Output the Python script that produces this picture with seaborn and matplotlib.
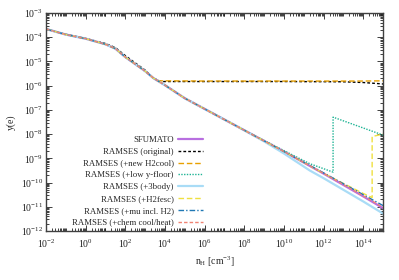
import numpy as np
import pandas as pd
import matplotlib
matplotlib.use("Agg")
import matplotlib.pyplot as plt
import matplotlib.ticker as mticker
import seaborn as sns

# values, stored as log10(n_H) and log10(y(e))
log_n_main = [-2, -1, 0, 1, 1.5, 2, 3, 3.42, 4, 5, 6, 8, 10, 12, 14, 15]
log_y_main = [-3.66, -3.89, -4.06, -4.29, -4.47, -4.82, -5.40, -5.69, -5.98,
              -6.52, -6.96, -7.84, -8.72, -9.63, -10.57, -11.06]

log_n_orig = [-2, -1, 0, 1, 1.5, 2, 2.5, 3, 3.42, 3.8, 6, 10, 13, 14, 15]
log_y_orig = [-3.66, -3.88, -4.05, -4.26, -4.43, -4.76, -5.06, -5.36, -5.69,
              -5.83, -5.83, -5.83, -5.84, -5.87, -5.93]

log_n_h2cool = [-2, -1, 0, 1, 1.5, 2, 3, 3.42, 3.7, 6, 10, 14, 15]
log_y_h2cool = [-3.66, -3.89, -4.06, -4.29, -4.47, -4.82, -5.40, -5.69,
                -5.80, -5.81, -5.81, -5.81, -5.80]

log_n_floor = [-2, -1, 0, 1, 1.5, 2, 3, 3.42, 4, 5, 6, 8, 10, 11.3, 12.48, 12.48, 15]
log_y_floor = [-3.66, -3.89, -4.06, -4.29, -4.47, -4.82, -5.40, -5.69, -5.98,
               -6.52, -6.96, -7.84, -8.68, -9.22, -9.57, -7.30, -8.04]

log_n_3body = [-2, -1, 0, 1, 1.5, 2, 3, 3.42, 4, 5, 6, 8, 9, 10, 11.3, 12, 14, 15]
log_y_3body = [-3.66, -3.89, -4.06, -4.29, -4.47, -4.82, -5.40, -5.69, -5.98,
               -6.52, -6.96, -7.84, -8.30, -8.80, -9.50, -9.82, -10.78, -11.28]

log_n_fesc = [-2, -1, 0, 1, 1.5, 2, 3, 3.42, 4, 5, 6, 8, 10, 12, 14, 14.45, 14.45, 15]
log_y_fesc = [-3.66, -3.89, -4.06, -4.29, -4.47, -4.82, -5.40, -5.69, -5.98,
              -6.52, -6.96, -7.84, -8.72, -9.62, -10.45, -10.62, -8.10, -8.00]

log_n_mu = [-2, -1, 0, 1, 1.5, 2, 3, 3.42, 4, 5, 6, 8, 10, 12, 14, 15]
log_y_mu = [-3.66, -3.89, -4.06, -4.29, -4.47, -4.82, -5.40, -5.69, -5.98,
            -6.52, -6.96, -7.84, -8.72, -9.60, -10.50, -10.95]

log_n_chem = log_n_main
log_y_chem = [-3.66, -3.89, -4.06, -4.29, -4.47, -4.82, -5.40, -5.69, -5.98,
              -6.52, -6.96, -7.84, -8.72, -9.62, -10.55, -11.02]

x_tick_exponents = [-2, 0, 2, 4, 6, 8, 10, 12, 14]

labels = [
    "SFUMATO",
    "RAMSES (original)",
    "RAMSES (+new H2cool)",
    "RAMSES (+low y-floor)",
    "RAMSES (+3body)",
    "RAMSES (+H2fesc)",
    "RAMSES (+mu incl. H2)",
    "RAMSES (+chem cool/heat)",
]
series = [
    (log_n_main, log_y_main),
    (log_n_orig, log_y_orig),
    (log_n_h2cool, log_y_h2cool),
    (log_n_floor, log_y_floor),
    (log_n_3body, log_y_3body),
    (log_n_fesc, log_y_fesc),
    (log_n_mu, log_y_mu),
    (log_n_chem, log_y_chem),
]
colors = ["#b86fe0", "#000000", "#e8a000", "#1fb495", "#a9dcf6",
          "#efe040", "#1f78b4", "#f08474"]
styles = ["-", (0, (2, 1.5)), (0, (4, 2)), (0, (1, 1)), "-",
          (0, (4, 2)), (0, (4, 1.5, 1, 1.5)), (0, (2.5, 1.5))]
widths = [1.6, 1.0, 1.0, 1.0, 1.6, 1.0, 1.0, 1.0]

sns.set_style("ticks")
plt.rcParams["font.family"] = ["Liberation Serif", "DejaVu Serif"]
plt.rcParams["mathtext.fontset"] = "custom"
plt.rcParams["mathtext.rm"] = "Liberation Serif"
plt.rcParams["mathtext.it"] = "Liberation Serif:italic"

fig = plt.figure(figsize=(3.99, 2.80), dpi=100)
ax = fig.add_axes([0.1153, 0.175, 0.8447, 0.7786])

for lab, (ln, ly), c, ls, lw in zip(labels, series, colors, styles, widths):
    df = pd.DataFrame({"n": 10.0 ** np.array(ln), "y": 10.0 ** np.array(ly)})
    sns.lineplot(data=df, x="n", y="y", ax=ax, color=c, linestyle=ls,
                 linewidth=lw, label=lab, estimator=None, sort=False)

ax.set_xscale("log")
ax.set_yscale("log")
ax.set_xlim(1e-2, 1e15)
ax.set_ylim(1e-12, 1e-3)

ax.xaxis.set_major_locator(mticker.FixedLocator(10.0 ** np.array(x_tick_exponents)))
ax.xaxis.set_major_formatter(mticker.LogFormatterSciNotation(base=10))
ax.xaxis.set_minor_locator(mticker.LogLocator(base=10.0, subs=np.arange(1, 10), numticks=60))
ax.xaxis.set_minor_formatter(mticker.NullFormatter())
ax.yaxis.set_major_locator(mticker.LogLocator(base=10.0, numticks=20))
ax.yaxis.set_minor_locator(mticker.LogLocator(base=10.0, subs=np.arange(2, 10), numticks=60))
ax.yaxis.set_minor_formatter(mticker.NullFormatter())

ax.tick_params(which="both", direction="in", top=True, right=True,
               labelsize=7, colors="#202020", width=0.6)
ax.tick_params(which="major", length=4)
ax.tick_params(which="minor", length=2)
ax.tick_params(axis="y", which="major", pad=2)
ax.tick_params(axis="x", which="major", pad=5)
for sp in ax.spines.values():
    sp.set_color("#404040")
    sp.set_linewidth(1.0)

ax.set_xlabel(r"n$_\mathrm{H}$ [cm$^{-3}$]", fontsize=7, labelpad=3)
ax.set_ylabel("y(e)", fontsize=7)
ax.yaxis.set_label_coords(-0.09, 0.5)

leg = ax.legend(loc="lower right", bbox_to_anchor=(0.465, 0.02),
                frameon=False, markerfirst=False, fontsize=6.3,
                handlelength=2.8, handletextpad=0.5, labelspacing=0.42,
                borderaxespad=0, borderpad=0)

fig.savefig("out.png", dpi=100)
